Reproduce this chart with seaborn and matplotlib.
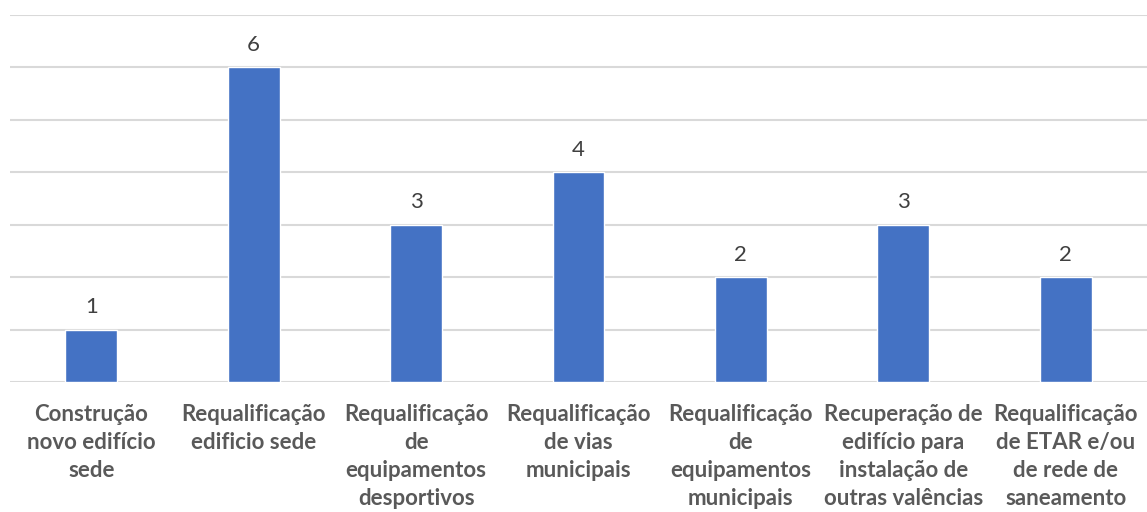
import pandas as pd
import matplotlib
matplotlib.use('Agg')
import matplotlib.pyplot as plt
import seaborn as sns

# chart data
categories = ['Construção\nnovo edifício\nsede',
              'Requalificação\nedificio sede',
              'Requalificação\nde\nequipamentos\ndesportivos',
              'Requalificação\nde vias\nmunicipais',
              'Requalificação\nde\nequipamentos\nmunicipais',
              'Recuperação de\nedifício para\ninstalação de\noutras valências',
              'Requalificação\nde ETAR e/ou\nde rede de\nsaneamento']
values = [1, 6, 3, 4, 2, 3, 2]

df = pd.DataFrame({'Categoria': categories, 'Valor': values})

sns.set_style('white')
plt.rcParams['font.family'] = ['Lato', 'DejaVu Sans']

fig = plt.figure(figsize=(11.47, 5.12), dpi=100)
ax = fig.add_axes([10 / 1147, 130 / 512, 1 - 10 / 1147, 367 / 512])

sns.barplot(x='Categoria', y='Valor', data=df, ax=ax, color='#4472C4',
            width=0.32, saturation=1)

ax.set_ylim(0, 7)
ax.set_xlim(-0.5, 6.5)
ax.set_yticks(range(0, 8))
ax.set_yticklabels([])
ax.yaxis.grid(True, color='#d9d9d9', linewidth=1.5)
ax.set_axisbelow(True)
ax.tick_params(axis='both', length=0)
for s in ax.spines.values():
    s.set_visible(False)

ax.set_xlabel('')
ax.set_ylabel('')
ax.set_xticks(range(len(categories)))
ax.set_xticklabels(categories, fontsize=16, fontweight='bold', color='#595959',
                   linespacing=1.4, va='top')
ax.tick_params(axis='x', pad=16)

ax.bar_label(ax.containers[0], padding=9, fontsize=16, color='#404040')

plt.savefig('out.png', dpi=100)
